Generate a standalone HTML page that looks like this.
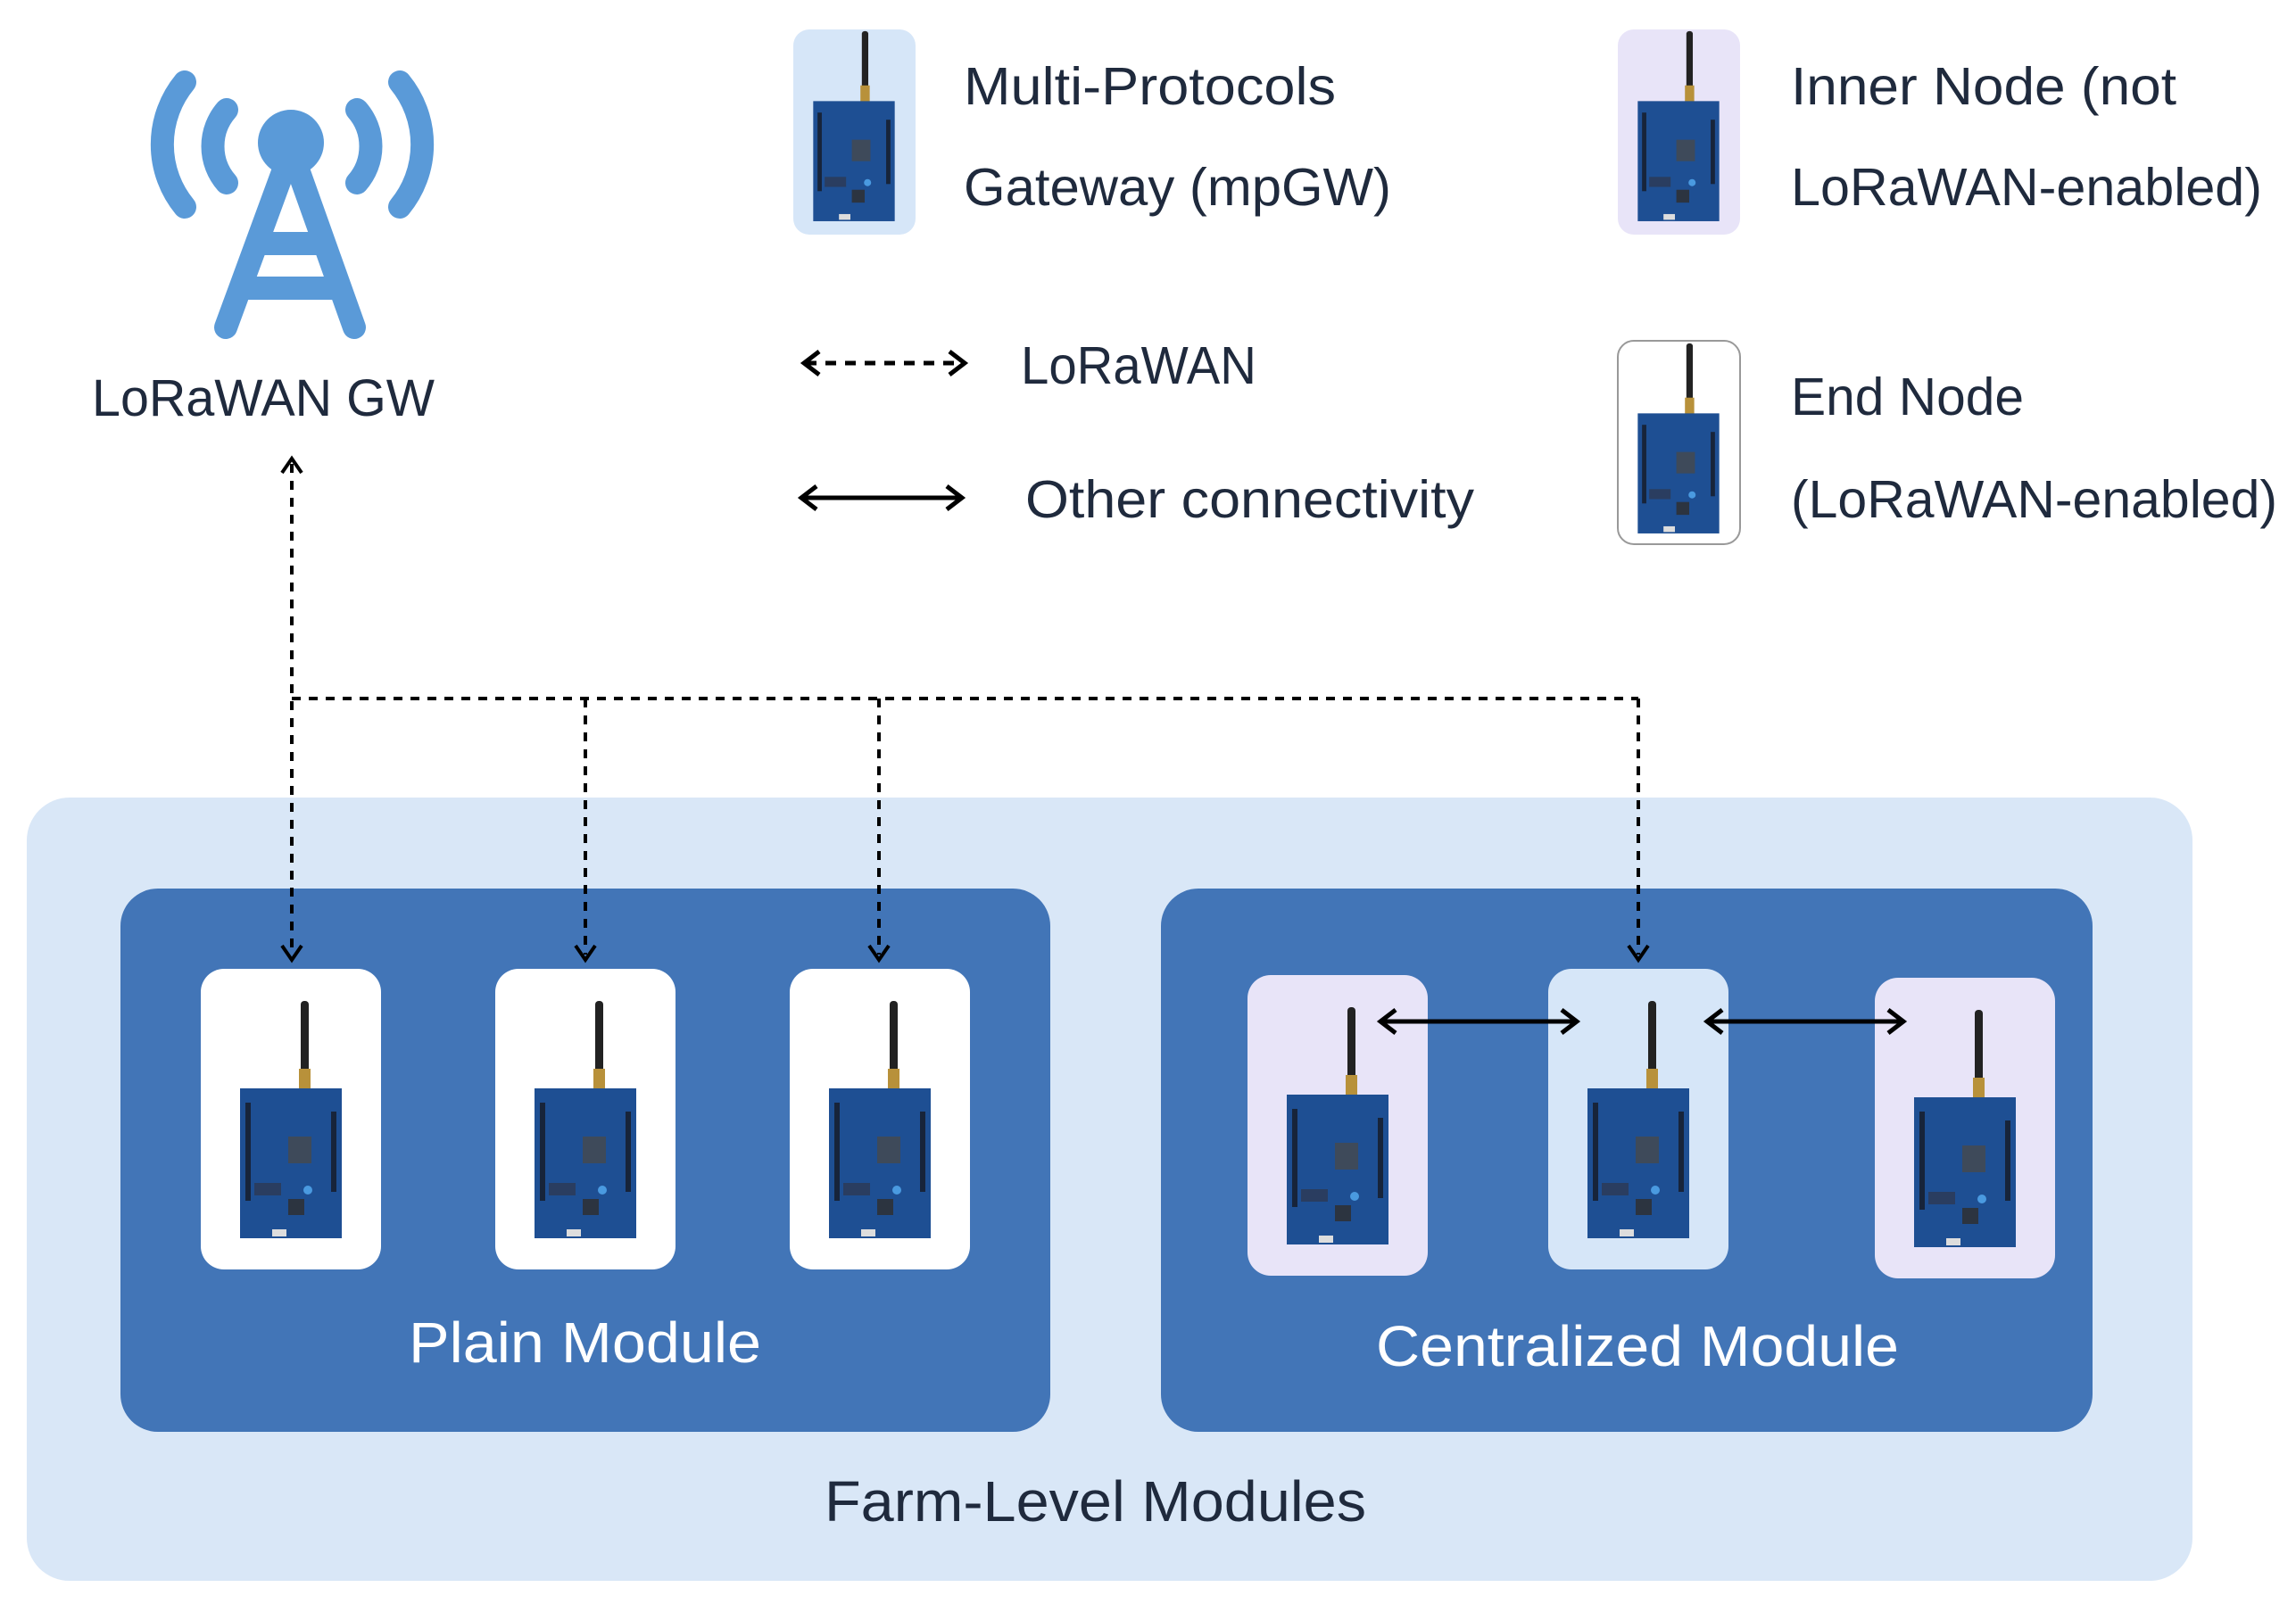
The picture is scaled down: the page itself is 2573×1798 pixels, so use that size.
<!DOCTYPE html>
<html><head><meta charset="utf-8"><style>
html,body{margin:0;padding:0;background:#fff}
svg text{font-family:"Liberation Sans",sans-serif;fill:#1f2a3d}
</style></head><body>
<svg width="2573" height="1793" viewBox="0 0 2573 1793" xmlns="http://www.w3.org/2000/svg">
<defs>
<symbol id="board" viewBox="0 0 202 337">
<rect x="112" y="36" width="9" height="80" rx="4" fill="#222"/>
<rect x="110" y="112" width="13" height="28" fill="#b8913a"/>
<rect x="44" y="134" width="114" height="168" fill="#1e4f93"/>
<rect x="50" y="150" width="6" height="110" fill="#17243a"/>
<rect x="146" y="160" width="6" height="90" fill="#17243a"/>
<rect x="98" y="188" width="26" height="30" fill="#3e4a5a"/>
<rect x="98" y="258" width="18" height="18" fill="#2c3440"/>
<circle cx="120" cy="248" r="5" fill="#4a9ae0"/>
<rect x="60" y="240" width="30" height="14" fill="#2a3d60"/>
<rect x="80" y="292" width="16" height="8" fill="#ddd"/>
</symbol>
</defs>

<!-- tower -->
<g stroke="#5a9ad8" stroke-width="26" stroke-linecap="round" fill="none">
<path d="M207 92 A110 110 0 0 0 207 232"/>
<path d="M254 123 A62 62 0 0 0 254 205"/>
<path d="M448 92 A110 110 0 0 1 448 232"/>
<path d="M400 123 A62 62 0 0 1 400 205"/>
<path d="M318 190 L253 367 M334 190 L397 367 M290 273 L360 273 M273 323 L378 323"/>
</g>
<circle cx="326" cy="160" r="37" fill="#5a9ad8"/>
<text x="103" y="466" font-size="58" textLength="384" lengthAdjust="spacingAndGlyphs">LoRaWAN GW</text>

<!-- legend -->
<rect x="889" y="33" width="137" height="230" rx="18" fill="#d6e6f8"/>
<use href="#board" x="876" y="6" width="162" height="270"/>
<text x="1080" y="117" font-size="59" textLength="417" lengthAdjust="spacingAndGlyphs">Multi-Protocols</text>
<text x="1080" y="230" font-size="59" textLength="479" lengthAdjust="spacingAndGlyphs">Gateway (mpGW)</text>
<rect x="1813" y="33" width="137" height="230" rx="18" fill="#e8e4f8"/>
<use href="#board" x="1800" y="6" width="162" height="270"/>
<text x="2007" y="117" font-size="59" textLength="432" lengthAdjust="spacingAndGlyphs">Inner Node (not</text>
<text x="2007" y="230" font-size="59" textLength="528" lengthAdjust="spacingAndGlyphs">LoRaWAN-enabled)</text>
<rect x="1813" y="382" width="137" height="228" rx="18" fill="#fff" stroke="#999" stroke-width="2"/>
<use href="#board" x="1800" y="356" width="162" height="270"/>
<text x="2007" y="465" font-size="59" textLength="261" lengthAdjust="spacingAndGlyphs">End Node</text>
<text x="2007" y="580" font-size="59" textLength="545" lengthAdjust="spacingAndGlyphs">(LoRaWAN-enabled)</text>

<g stroke="#000" stroke-width="5" fill="none">
<line x1="903" y1="407" x2="1079" y2="407" stroke-dasharray="12,10"/>
<path d="M918 394 L901 407 L918 420 M1064 394 L1081 407 L1064 420"/>
<line x1="900" y1="558" x2="1076" y2="558"/>
<path d="M915 545 L898 558 L915 571 M1061 545 L1078 558 L1061 571"/>
</g>
<text x="1144" y="430" font-size="59" textLength="264" lengthAdjust="spacingAndGlyphs">LoRaWAN</text>
<text x="1149" y="580" font-size="59" textLength="503" lengthAdjust="spacingAndGlyphs">Other connectivity</text>

<!-- containers -->
<rect x="30" y="894" width="2427" height="878" rx="48" fill="#d9e7f7"/>
<rect x="135" y="996" width="1042" height="609" rx="42" fill="#4275b7"/>
<rect x="1301" y="996" width="1044" height="609" rx="42" fill="#4275b7"/>

<rect x="225" y="1086" width="202" height="337" rx="26" fill="#fff"/>
<use href="#board" x="225" y="1086" width="202" height="337"/>
<rect x="555" y="1086" width="202" height="337" rx="26" fill="#fff"/>
<use href="#board" x="555" y="1086" width="202" height="337"/>
<rect x="885" y="1086" width="202" height="337" rx="26" fill="#fff"/>
<use href="#board" x="885" y="1086" width="202" height="337"/>

<rect x="1398" y="1093" width="202" height="337" rx="26" fill="#e8e4f8"/>
<use href="#board" x="1398" y="1093" width="202" height="337"/>
<rect x="1735" y="1086" width="202" height="337" rx="26" fill="#d6e6f8"/>
<use href="#board" x="1735" y="1086" width="202" height="337"/>
<rect x="2101" y="1096" width="202" height="337" rx="26" fill="#e8e4f8"/>
<use href="#board" x="2101" y="1096" width="202" height="337"/>

<text x="458" y="1527" font-size="64" textLength="395" lengthAdjust="spacingAndGlyphs" style="fill:#fff">Plain Module</text>
<text x="1542" y="1531" font-size="64" textLength="586" lengthAdjust="spacingAndGlyphs" style="fill:#fff">Centralized Module</text>
<text x="924" y="1705" font-size="64" textLength="607" lengthAdjust="spacingAndGlyphs">Farm-Level Modules</text>

<!-- connectors -->
<g stroke="#000" stroke-width="4" fill="none">
<g stroke-dasharray="10,9">
<line x1="327" y1="520" x2="327" y2="1070"/>
<line x1="327" y1="783" x2="1836" y2="783"/>
<line x1="656" y1="783" x2="656" y2="1070"/>
<line x1="985" y1="783" x2="985" y2="1070"/>
<line x1="1836" y1="783" x2="1836" y2="1070"/>
</g>
<path d="M316 530 L327 514 L338 530"/>
<path d="M316 1060 L327 1076 L338 1060 M645 1060 L656 1076 L667 1060 M974 1060 L985 1076 L996 1060 M1825 1060 L1836 1076 L1847 1060"/>
<line x1="1549" y1="1145" x2="1765" y2="1145" stroke-width="5"/>
<path d="M1564 1132 L1547 1145 L1564 1158 M1750 1132 L1767 1145 L1750 1158" stroke-width="5"/>
<line x1="1915" y1="1145" x2="2131" y2="1145" stroke-width="5"/>
<path d="M1930 1132 L1913 1145 L1930 1158 M2116 1132 L2133 1145 L2116 1158" stroke-width="5"/>
</g>
</svg>
</body></html>
